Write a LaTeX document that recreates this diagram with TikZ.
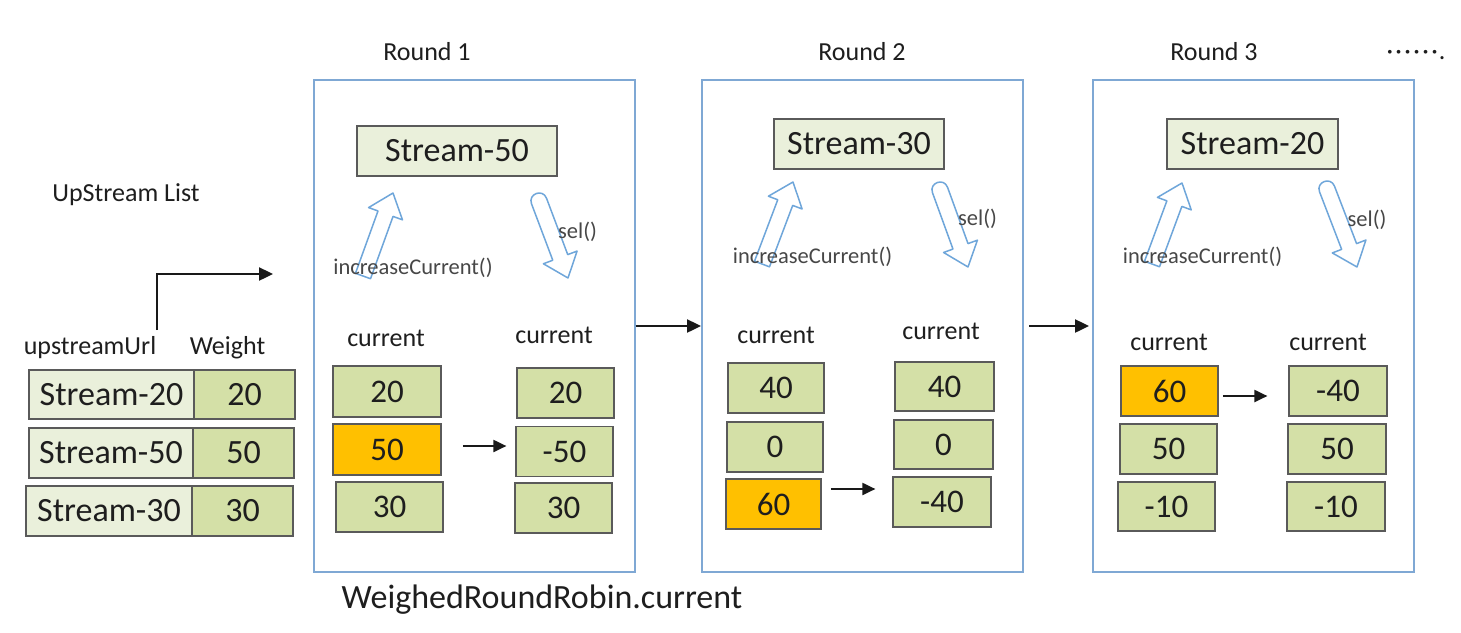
\documentclass[tikz,border=0pt]{standalone}
\usepackage{fontspec}
\setmainfont{Carlito}
\usetikzlibrary{calc,arrows.meta}
\definecolor{lightg}{HTML}{EAF0DB}
\definecolor{midg}{HTML}{D4E0A7}
\definecolor{orng}{HTML}{FFC000}
\definecolor{frameb}{HTML}{7FA8D4}
\definecolor{arrb}{HTML}{6FA6DA}
\definecolor{boxline}{HTML}{5A5A5A}
\definecolor{txt}{HTML}{1E1E1E}
\newcommand{\fs}[1]{\fontsize{#1}{#1}\selectfont}
\newcommand{\dd}{·\kern1.2pt}
\tikzset{
  cellbox/.style={draw=boxline, line width=0.6pt, inner sep=0pt, minimum height=25pt, text=txt, font=\fs{16.5pt}},
  lcell/.style={cellbox, fill=lightg},
  gcell/.style={cellbox, fill=midg},
  ocell/.style={cellbox, fill=orng, line width=0.9pt},
  topbox/.style={cellbox, fill=lightg, font=\fs{17pt}},
  frame/.style={draw=frameb, line width=1pt, inner sep=0pt, minimum width=160.5pt, minimum height=246pt},
  lab/.style={text=txt, inner sep=0pt, font=\fs{13pt}},
  mlab/.style={text=black!72, inner sep=0pt, font=\fs{11.25pt}},
  arr/.style={draw=black!90, line width=1.2pt, -{Triangle[length=7pt,width=6.5pt]}},
  sarr/.style={draw=black!90, line width=1pt, -{Triangle[length=6.5pt,width=6pt]}},
  hollow/.style={draw=arrb, line width=0.75pt, line join=round, fill=white}
}
\newcommand{\harrow}[2]{%
  \coordinate (hN) at ($(#2)!11pt!(#1)$);
  \draw[hollow] ($(#1)!4pt!90:(#2)$) -- ($(hN)!4pt!90:(#2)$) -- ($(hN)!9pt!90:(#2)$)
    -- (#2) -- ($(hN)!9pt!-90:(#2)$) -- ($(hN)!4pt!-90:(#2)$) -- ($(#1)!4pt!-90:(#2)$) -- cycle;}
\newcommand{\harrowr}[2]{%
  \coordinate (hN) at ($(#2)!11pt!(#1)$);
  \coordinate (hTL) at ($(#1)!4pt!90:(#2)$);
  \coordinate (hTR) at ($(#1)!4pt!-90:(#2)$);
  \coordinate (hSL) at ($(hN)!4pt!90:(#2)$);
  \coordinate (hSR) at ($(hN)!4pt!-90:(#2)$);
  \draw[hollow] (hTL) -- (hSL) -- ($(hN)!9pt!90:(#2)$)
    -- (#2) -- ($(hN)!9pt!-90:(#2)$) -- (hSR) -- (hTR)
    .. controls ($(hTR)!-5.3pt!(hSR)$) and ($(hTL)!-5.3pt!(hSL)$) .. (hTL) -- cycle;}
\begin{document}
\begin{tikzpicture}[x=0.5pt,y=-0.5pt]
\useasboundingbox[fill=white] (0,0) rectangle (1461,632);

% ---- upstream list ----
\node[lab] (usl) at (126,195) {UpStream List};
\coordinate (b0) at (157,330);
\coordinate (b1) at (273,274);
\draw[arr] (b0) |- (b1);
\node[lab] (hurl) at (90,348) {upstreamUrl};
\node[lab] (hw) at (227.5,348) {Weight};
\node[lcell, minimum width=82.5pt, minimum height=24.5pt, font=\fs{17pt}] (l1) at (111.5,394.5) {Stream-20};
\node[gcell, minimum width=50.5pt, minimum height=24.5pt, font=\fs{17pt}] (w1) at (244.5,394.5) {20};
\node[lcell, minimum width=82pt, font=\fs{17pt}] (l2) at (111,453) {Stream-50};
\node[gcell, minimum width=50.5pt, font=\fs{17pt}] (w2) at (243.5,453) {50};
\node[lcell, minimum width=83pt, font=\fs{17pt}] (l3) at (109,511) {Stream-30};
\node[gcell, minimum width=50.5pt, font=\fs{17pt}] (w3) at (242.5,511) {30};

% ---- frames ----
\node[frame] (f1) at (474,326) {};
\node[frame] (f2) at (862.5,326) {};
\node[frame] (f3) at (1253.5,326) {};
\node[lab] (t1) at (427,52) {Round 1};
\node[lab] (t2) at (862,52) {Round 2};
\node[lab] (t3) at (1214,52) {Round 3};
\node[lab] (dots) at (1416,55) {\dd\dd\dd\dd\dd·\kern0.5pt.};
\draw[arr] (f1.east) -- (f2.west);
\draw[arr, shorten <=2.5pt, shorten >=1.5pt] (f2.east) -- (f3.west);

% ---- round 1 ----
\node[topbox, minimum width=100pt] (s1) at (457,151) {Stream-50};
\coordinate (i1a) at (363,276); \coordinate (i1b) at (393,193);
\coordinate (s1a) at (539,201); \coordinate (s1b) at (568,278);
\harrow{i1a}{i1b}
\harrowr{s1a}{s1b}
\node[mlab] (ic1) at (413,268) {increaseCurrent()};
\node[mlab] (sel1) at (577.5,232) {sel()};
\node[lab] (c1l) at (386,338) {current};
\node[lab] (c1r) at (554,335) {current};
\node[gcell, minimum width=54pt, minimum height=25.5pt] (r1l1) at (387,391.5) {20};
\node[ocell, minimum width=54pt, minimum height=25.5pt] (r1l2) at (387,449.5) {50};
\node[gcell, minimum width=53.5pt] (r1l3) at (389.5,507) {30};
\node[gcell, minimum width=48.5pt] (r1r1) at (565.5,393) {20};
\node[gcell, minimum width=48.5pt] (r1r2) at (564.5,451.5) {-50};
\node[gcell, minimum width=48.5pt] (r1r3) at (563.5,508) {30};
\draw[sarr] ($(r1l2.east)+(21,-3.5)$) -- ($(r1r2.west)+(-9,-5.5)$);

% ---- round 2 ----
\node[topbox, minimum width=85pt] (s2) at (859,144) {Stream-30};
\coordinate (i2a) at (762,264); \coordinate (i2b) at (793,182);
\coordinate (s2a) at (940,190); \coordinate (s2b) at (968,267);
\harrow{i2a}{i2b}
\harrowr{s2a}{s2b}
\node[mlab] (ic2) at (812.5,257) {increaseCurrent()};
\node[mlab] (sel2) at (977.5,219) {sel()};
\node[lab] (c2l) at (776,335) {current};
\node[lab] (c2r) at (941,331) {current};
\node[gcell, minimum width=48pt] (r2l1) at (776,388) {40};
\node[gcell, minimum width=48pt] (r2l2) at (775,447) {0};
\node[ocell, minimum width=47.5pt] (r2l3) at (773.5,504) {60};
\node[gcell, minimum width=49.5pt, minimum height=24.5pt] (r2r1) at (944.5,386.5) {40};
\node[gcell, minimum width=49.5pt, minimum height=24.5pt] (r2r2) at (943.5,444.5) {0};
\node[gcell, minimum width=49pt] (r2r3) at (942,502) {-40};
\draw[sarr] ($(r2l3.east)+(9,-15)$) -- ($(r2r3.west)+(-17,-13)$);

% ---- round 3 ----
\node[topbox, minimum width=85.5pt] (s3) at (1252.5,144) {Stream-20};
\coordinate (i3a) at (1152,264); \coordinate (i3b) at (1182,183);
\coordinate (s3a) at (1327,189); \coordinate (s3b) at (1357,267);
\harrow{i3a}{i3b}
\harrowr{s3a}{s3b}
\node[mlab] (ic3) at (1202.5,257) {increaseCurrent()};
\node[mlab] (sel3) at (1367,220) {sel()};
\node[lab] (c3l) at (1169,342) {current};
\node[lab] (c3r) at (1328,342) {current};
\node[ocell, minimum width=48.5pt] (r3l1) at (1169.5,391) {60};
\node[gcell, minimum width=48.5pt] (r3l2) at (1168.5,449) {50};
\node[gcell, minimum width=48.5pt, minimum height=24.5pt] (r3l3) at (1166.5,506.5) {-10};
\node[gcell, minimum width=49pt] (r3r1) at (1338,391) {-40};
\node[gcell, minimum width=49pt] (r3r2) at (1337,449) {50};
\node[gcell, minimum width=49pt, minimum height=24.5pt] (r3r3) at (1336,506.5) {-10};
\draw[sarr] ($(r3l1.east)+(4,5)$) -- ($(r3r1.west)+(-21,5)$);

% ---- caption ----
\node[text=txt, inner sep=0pt, font=\fs{17pt}] (cap) at (542,600) {WeighedRoundRobin.current};
\end{tikzpicture}
\end{document}
